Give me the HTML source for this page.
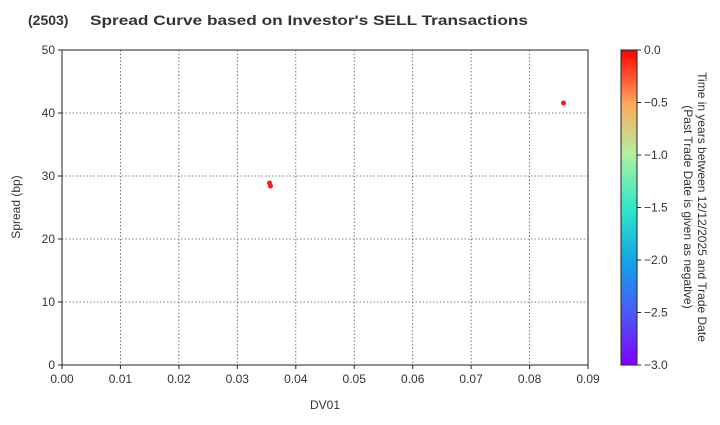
<!DOCTYPE html><html><head><style>body{margin:0;background:#fff}</style></head><body>
<svg width="720" height="420" xmlns="http://www.w3.org/2000/svg" font-family="Liberation Sans, DejaVu Sans, sans-serif" font-size="12" fill="#333">
<defs><linearGradient id="cb" x1="0" y1="1" x2="0" y2="0">
<stop offset="0" stop-color="#8000ff"/><stop offset="0.17" stop-color="#4a5cf5"/><stop offset="0.33" stop-color="#12a4e8"/><stop offset="0.5" stop-color="#30e8c8"/><stop offset="0.67" stop-color="#b0f0a0"/><stop offset="0.83" stop-color="#ffa85a"/><stop offset="1" stop-color="#ff0000"/></linearGradient></defs>
<text x="28" y="25" font-size="14" font-weight="bold" fill="#333">(2503)</text>
<text x="90" y="25" font-size="14" font-weight="bold" fill="#333" textLength="438" lengthAdjust="spacingAndGlyphs">Spread Curve based on Investor's SELL Transactions</text>
<g stroke="#555" stroke-dasharray="1.5,2" stroke-width="0.8">
<line x1="120.4" y1="50" x2="120.4" y2="365"/><line x1="178.9" y1="50" x2="178.9" y2="365"/><line x1="237.3" y1="50" x2="237.3" y2="365"/><line x1="295.8" y1="50" x2="295.8" y2="365"/><line x1="354.2" y1="50" x2="354.2" y2="365"/><line x1="412.7" y1="50" x2="412.7" y2="365"/><line x1="471.1" y1="50" x2="471.1" y2="365"/><line x1="529.6" y1="50" x2="529.6" y2="365"/>
<line x1="62" y1="302" x2="588" y2="302"/><line x1="62" y1="239" x2="588" y2="239"/><line x1="62" y1="176" x2="588" y2="176"/><line x1="62" y1="113" x2="588" y2="113"/>
</g>
<rect x="62" y="50" width="526" height="315" fill="none" stroke="#222" stroke-width="1"/>
<g stroke="#222"><line x1="62" y1="365" x2="62" y2="369"/><line x1="120.4" y1="365" x2="120.4" y2="369"/><line x1="178.9" y1="365" x2="178.9" y2="369"/><line x1="237.3" y1="365" x2="237.3" y2="369"/><line x1="295.8" y1="365" x2="295.8" y2="369"/><line x1="354.2" y1="365" x2="354.2" y2="369"/><line x1="412.7" y1="365" x2="412.7" y2="369"/><line x1="471.1" y1="365" x2="471.1" y2="369"/><line x1="529.6" y1="365" x2="529.6" y2="369"/><line x1="588" y1="365" x2="588" y2="369"/>
<line x1="58" y1="365" x2="62" y2="365"/><line x1="58" y1="302" x2="62" y2="302"/><line x1="58" y1="239" x2="62" y2="239"/><line x1="58" y1="176" x2="62" y2="176"/><line x1="58" y1="113" x2="62" y2="113"/><line x1="58" y1="50" x2="62" y2="50"/></g>
<g text-anchor="middle"><text x="62" y="383">0.00</text><text x="120.4" y="383">0.01</text><text x="178.9" y="383">0.02</text><text x="237.3" y="383">0.03</text><text x="295.8" y="383">0.04</text><text x="354.2" y="383">0.05</text><text x="412.7" y="383">0.06</text><text x="471.1" y="383">0.07</text><text x="529.6" y="383">0.08</text><text x="588" y="383">0.09</text>
<text x="325" y="409">DV01</text></g>
<g text-anchor="end"><text x="55" y="369">0</text><text x="55" y="306">10</text><text x="55" y="243">20</text><text x="55" y="180">30</text><text x="55" y="117">40</text><text x="55" y="54">50</text></g>
<text transform="translate(20,207) rotate(-90)" text-anchor="middle">Spread (bp)</text>
<circle cx="269.5" cy="183" r="2.5" fill="#ff1a0d"/><circle cx="270.5" cy="186" r="2.5" fill="#ff1a0d"/><circle cx="563.5" cy="103" r="2.5" fill="#ff1a0d"/>
<rect x="621" y="50" width="16" height="315" fill="url(#cb)" stroke="#222" stroke-width="1"/>
<g stroke="#222"><line x1="637" y1="50" x2="641" y2="50"/><line x1="637" y1="102.5" x2="641" y2="102.5"/><line x1="637" y1="155" x2="641" y2="155"/><line x1="637" y1="207.5" x2="641" y2="207.5"/><line x1="637" y1="260" x2="641" y2="260"/><line x1="637" y1="312.5" x2="641" y2="312.5"/><line x1="637" y1="365" x2="641" y2="365"/></g>
<g><text x="644" y="54">0.0</text><text x="644" y="106.5">−0.5</text><text x="644" y="159">−1.0</text><text x="644" y="211.5">−1.5</text><text x="644" y="264">−2.0</text><text x="644" y="316.5">−2.5</text><text x="644" y="369">−3.0</text></g>
<text transform="translate(698,207) rotate(90)" text-anchor="middle">Time in years between 12/12/2025 and Trade Date</text>
<text transform="translate(684,207) rotate(90)" text-anchor="middle">(Past Trade Date is given as negative)</text>
</svg></body></html>
